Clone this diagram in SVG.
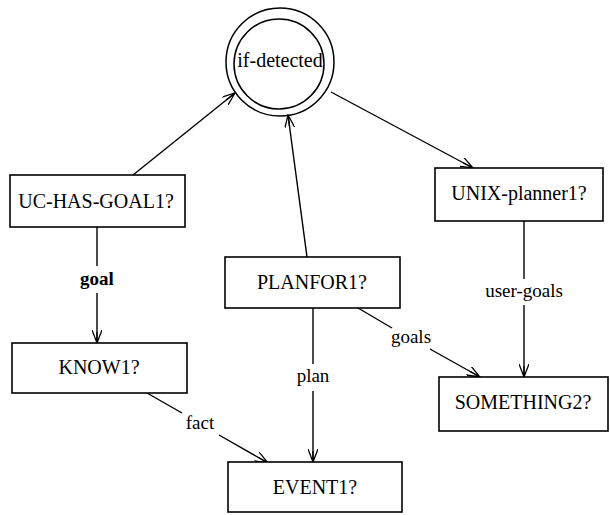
<svg xmlns="http://www.w3.org/2000/svg" width="610" height="515" viewBox="0 0 610 515">
  <style>
    .box { fill: #fff; stroke: #000; stroke-width: 1.6; }
    .ring { fill: none; stroke: #000; stroke-width: 1.5; }
    .edge { fill: none; stroke: #000; stroke-width: 1.4; marker-end: url(#arrow); }
    .seg { fill: none; stroke: #000; stroke-width: 1.4; }
  </style>
  <defs>
    <marker id="arrow" viewBox="0 0 14 10" refX="13" refY="5" markerWidth="14" markerHeight="10" markerUnits="userSpaceOnUse" orient="auto">
      <path d="M0,0 L13,5 L0,10 M2,5 L13,5" fill="none" stroke="#000" stroke-width="1.3"/>
    </marker>
  </defs>
  <rect width="610" height="515" fill="#fff"/>

  <g id="connectors">
    <!-- UC-HAS-GOAL1? -> if-detected -->
    <line class="edge" x1="133" y1="175" x2="235" y2="93"/>
    <!-- PLANFOR1? -> if-detected -->
    <line class="edge" x1="307" y1="257" x2="288" y2="115"/>
    <!-- if-detected -> UNIX-planner1? -->
    <line class="edge" x1="331" y1="92" x2="473" y2="168"/>
    <!-- goal -->
    <line class="seg" x1="97" y1="227" x2="97" y2="266"/>
    <line class="edge" x1="97" y1="293" x2="97" y2="343"/>
    <!-- fact -->
    <line class="seg" x1="147" y1="393" x2="182" y2="413"/>
    <line class="edge" x1="219" y1="435" x2="268" y2="463"/>
    <!-- plan -->
    <line class="seg" x1="313" y1="308" x2="313" y2="364"/>
    <line class="edge" x1="313" y1="391" x2="313" y2="462"/>
    <!-- goals -->
    <line class="seg" x1="358" y1="308" x2="392" y2="328"/>
    <line class="edge" x1="430" y1="349" x2="480" y2="377"/>
    <!-- user-goals -->
    <line class="seg" x1="524" y1="221" x2="524" y2="279"/>
    <line class="edge" x1="524" y1="305" x2="524" y2="377"/>

    <g font-family="Liberation Serif" font-size="19" text-anchor="middle">
      <text x="97" y="285" font-weight="bold">goal</text>
      <text x="200" y="429">fact</text>
      <text x="313" y="382">plan</text>
      <text x="411" y="343">goals</text>
      <text x="524" y="297">user-goals</text>
    </g>
  </g>

  <g id="if-detected">
    <circle class="ring" cx="280" cy="62" r="54"/>
    <circle class="ring" cx="279" cy="64" r="45"/>
    <text x="280" y="67" font-family="Liberation Serif" font-size="20" text-anchor="middle">if-detected</text>
  </g>

  <g id="uc-has-goal1">
    <rect class="box" x="10" y="175" width="175" height="52"/>
    <text x="96" y="208" font-family="Liberation Serif" font-size="20" text-anchor="middle">UC-HAS-GOAL1?</text>
  </g>

  <g id="unix-planner1">
    <rect class="box" x="435" y="168" width="168" height="53"/>
    <text x="519" y="200" font-family="Liberation Serif" font-size="20" text-anchor="middle">UNIX-planner1?</text>
  </g>

  <g id="planfor1">
    <rect class="box" x="225" y="257" width="175" height="51"/>
    <text x="312" y="289" font-family="Liberation Serif" font-size="20" text-anchor="middle">PLANFOR1?</text>
  </g>

  <g id="know1">
    <rect class="box" x="12" y="343" width="175" height="50"/>
    <text x="99" y="374" font-family="Liberation Serif" font-size="20" text-anchor="middle">KNOW1?</text>
  </g>

  <g id="something2">
    <rect class="box" x="439" y="377" width="169" height="54"/>
    <text x="523" y="409" font-family="Liberation Serif" font-size="20" text-anchor="middle">SOMETHING2?</text>
  </g>

  <g id="event1">
    <rect class="box" x="228" y="462" width="174" height="50"/>
    <text x="315" y="494" font-family="Liberation Serif" font-size="20" text-anchor="middle">EVENT1?</text>
  </g>
</svg>
